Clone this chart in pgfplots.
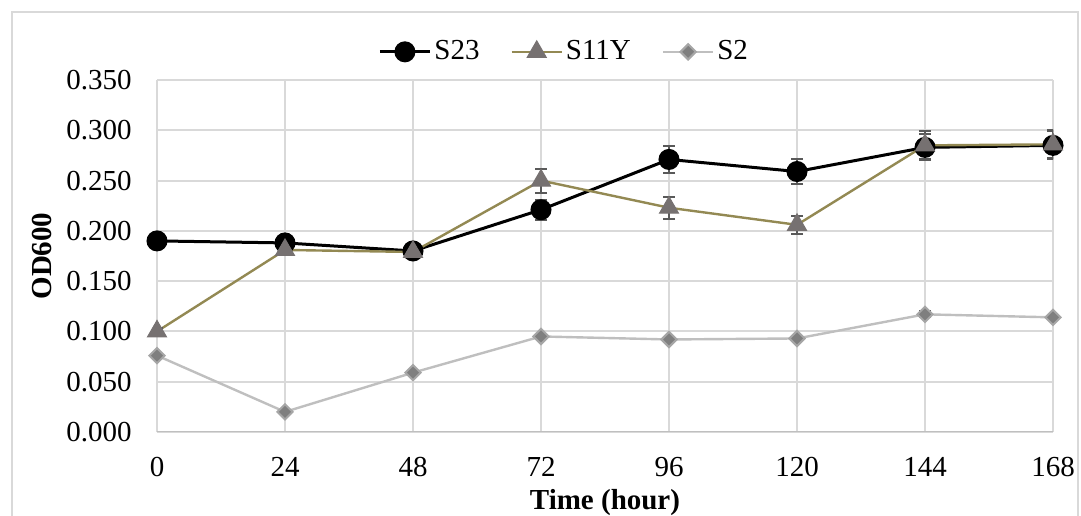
\documentclass[border=0pt]{standalone}
\usepackage{fontspec}
\setmainfont{Liberation Serif}
\usepackage{pgfplots}
\pgfplotsset{compat=1.18}
\definecolor{bordergray}{HTML}{D9D9D9}
\definecolor{gridgray}{HTML}{D9D9D9}
\definecolor{axisgray}{HTML}{BFBFBF}
\definecolor{olive}{HTML}{938953}
\definecolor{trigray}{HTML}{767171}
\definecolor{s2line}{HTML}{BFBFBF}
\definecolor{s2fill}{HTML}{7F7F7F}
\definecolor{s2edge}{HTML}{A6A6A6}
\definecolor{errgray}{HTML}{595959}
\begin{document}
\fontsize{14.5bp}{17bp}\selectfont
\begin{tikzpicture}
\path[use as bounding box] (0,0) rectangle (540.5bp,258bp);
\begin{scope}
\clip (0,0) rectangle (540.5bp,258bp);
\draw[color=bordergray, line width=1bp] (6bp,252bp) rectangle (539bp,-20bp);
\end{scope}
\begin{axis}[
  at={(78.5bp,42bp)}, anchor=south west, scale only axis,
  width=448bp, height=176bp,
  xmin=0, xmax=168, ymin=0, ymax=0.35,
  xtick={0,24,48,72,96,120,144,168},
  ytick={0,0.05,0.1,0.15,0.2,0.25,0.3,0.35},
  grid=major, major grid style={color=gridgray, line width=1bp},
  axis line style={draw=none}, tick style={draw=none},
  /pgf/number format/assume math mode=true,
  yticklabel style={/pgf/number format/fixed, /pgf/number format/fixed zerofill, /pgf/number format/precision=3},
  yticklabel style={inner sep=0pt, anchor=east, xshift=-12.5bp},
  xticklabel style={inner sep=0pt, anchor=north, yshift=-12.5bp},
  ticklabel style={font=\fontsize{14.5bp}{17bp}\selectfont},
  xlabel={\textbf{Time (hour)}}, ylabel={\textbf{OD600}},
  xlabel style={at={(axis description cs:0.5,-0.199)}, anchor=center, inner sep=0pt},
  ylabel style={at={(axis description cs:-0.1283,0.5)}, anchor=center, rotate=0, inner sep=0pt},
  label style={font=\fontsize{14.5bp}{17bp}\selectfont},
  legend columns=3,
  legend style={at={(0.455,1.08)}, anchor=center, draw=none, fill=none,
    font=\fontsize{14.5bp}{17bp}\selectfont,
    nodes={inner sep=1.5bp},
    /tikz/every even column/.append style={column sep=14bp}},
  legend image code/.code={\draw[mark repeat=2,mark phase=2] plot coordinates {(0bp,0bp) (12.5bp,0bp) (25bp,0bp)};},
  error bars/error bar style={color=errgray, line width=1bp},
  error bars/error mark options={rotate=90, mark size=3bp, line width=1bp, color=errgray},
]
\draw[color=axisgray, line width=1bp] (axis cs:0,0) -- (axis cs:168,0);
\addplot[color=black, line width=1.5bp, mark=*, mark size=4.5bp,
  mark options={fill=black, draw=black},
  error bars/.cd, y dir=both, y explicit]
  table[x=x, y=y, y error=e] {
x y e
0 0.190 0.007
24 0.188 0.006
48 0.180 0.004
72 0.221 0.010
96 0.271 0.013
120 0.259 0.012
144 0.283 0.013
168 0.285 0.014
};
\addlegendentry{S23}
\addplot[color=olive, line width=1.2bp, mark=triangle*, mark size=5.5bp,
  mark options={fill=trigray, draw=trigray, line width=0.5bp},
  error bars/.cd, y dir=both, y explicit]
  table[x=x, y=y, y error=e] {
x y e
0 0.100 0.003
24 0.181 0.004
48 0.179 0.003
72 0.250 0.012
96 0.223 0.011
120 0.206 0.009
144 0.285 0.014
168 0.286 0.014
};
\addlegendentry{S11Y}
\addplot[color=s2line, line width=1.2bp, mark=square*, mark size=2.7bp,
  mark options={rotate=45, fill=s2fill, draw=s2edge, line width=1bp},
  error bars/.cd, y dir=both, y explicit]
  table[x=x, y=y, y error=e] {
x y e
0 0.076 0.002
24 0.020 0.002
48 0.059 0.002
72 0.095 0.002
96 0.092 0.002
120 0.093 0.002
144 0.117 0.003
168 0.114 0.002
};
\addlegendentry{S2}
\end{axis}
\end{tikzpicture}
\end{document}
